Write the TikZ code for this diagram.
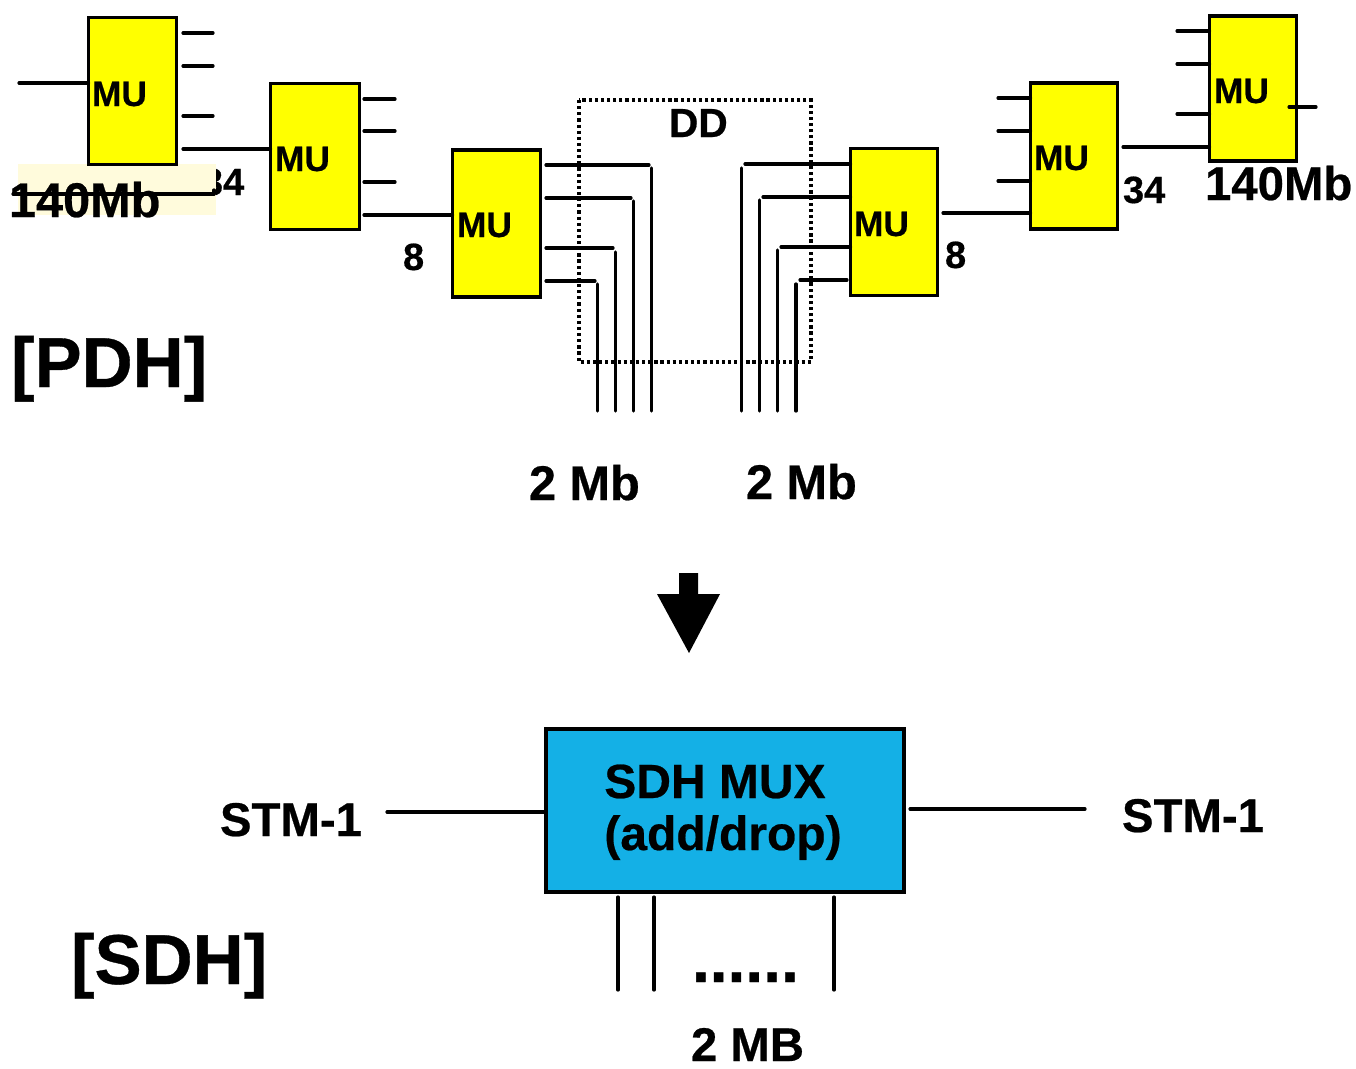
\documentclass[tikz,border=0pt]{standalone}
\usepackage{fontspec}
\setmainfont{Liberation Sans}[BoldFont={Liberation Sans Bold},BoldFeatures={FakeBold=0.5}]
\newcommand{\wire}[5]{%
  \coordinate (#1a) at (#2,#3);
  \coordinate (#1b) at (#4,#5);
  \draw[wire] (#1a) -- (#1b);}
\newcommand{\wireto}[4]{% name, x, y, target node anchor
  \coordinate (#1a) at (#2,#3);
  \draw[wire] (#1a) -- (#1a -| #4);}
\newcommand{\mubox}[5]{% name, left, right, top, bottom
  \path (#2,#4) coordinate (#1nw) (#3,#5) coordinate (#1se);
  \node[mublock,fit=(#1nw)(#1se)] (#1) {};}
\usetikzlibrary{fit}
\definecolor{sdhblue}{HTML}{14B0E6}
\definecolor{beige}{HTML}{FFFBDC}
\definecolor{muyellow}{HTML}{FFFF00}
\tikzset{
  x=0.75pt,y=-0.75pt,
  wire/.style={line width=2.4pt,black,line cap=round},
  thinwire/.style={line width=2.4pt,black,line cap=round},
  mublock/.style={draw=black,fill=muyellow,line width=2.8pt,inner sep=0pt,outer sep=0pt},
  sdhblock/.style={draw=black,fill=sdhblue,line width=2.6pt,inner sep=0pt,outer sep=0pt},
  txt/.style={anchor=base west,inner sep=0pt,outer sep=0pt,font=\bfseries,text=black},
  mutxt/.style={txt,font=\fontsize{26.5}{27}\selectfont\bfseries},
  numtxt/.style={txt,font=\fontsize{28.5}{28.5}\selectfont\bfseries},
  bigtxt/.style={txt,font=\fontsize{35.5}{36}\selectfont\bfseries},
  hugetxt/.style={txt,font=\fontsize{53}{53}\selectfont\bfseries},
  ddbox/.style={draw=black,line width=2.3pt,dash pattern=on 2.4pt off 2.2pt},
}
\begin{document}
\begin{tikzpicture}
\useasboundingbox (0,0) rectangle (1356,1068);
\fill[white] (0,0) rectangle (1356,1068);

% clipped "34" under the beige patch
\node[numtxt] (n34l) at (202,195) {34};
\fill[beige] (18,164) rectangle (216,215);

% DD dotted frame
\coordinate (ddnw) at (579,100);
\coordinate (ddse) at (811,362);
\draw[ddbox] (ddnw) rectangle (ddse);
\node[txt,font=\fontsize{30.5}{31}\selectfont\bfseries] (dd) at (669,137) {DD};

% MU boxes
\mubox{ma}{88.5}{176.5}{17.5}{164.5}
\mubox{mb}{270.5}{359.5}{83.5}{229.5}
\mubox{mc}{452.5}{540.5}{150}{297}
\mubox{md}{850.5}{937.5}{148.5}{295.5}
\mubox{me}{1030.5}{1117.5}{83}{229}
\mubox{mf}{1209.5}{1296.5}{16}{161}

\node[mutxt] (la) at (92,106) {MU};
\node[mutxt] (lb) at (275,171) {MU};
\node[mutxt] (lc) at (457,237) {MU};
\node[mutxt] (ld) at (854,236) {MU};
\node[mutxt] (le) at (1034,170) {MU};
\node[mutxt] (lf) at (1214,103) {MU};

% first box wires
\wireto{ain}{19}{83}{ma.west}
\wire{aa}{183}{33}{213}{33}
\wire{ab}{183}{66}{213}{66}
\wire{ac}{183}{116}{213}{116}
\wireto{ad}{183}{149}{mb.west}
\wire{ae}{13}{194}{214}{194}
\coordinate (aftop) at (214,190);
\draw[wire] (aeb) -- (aftop);

% second box wires
\wire{ba}{364}{99}{395}{99}
\wire{bb}{364}{131}{395}{131}
\wire{bc}{364}{182}{395}{182}
\wireto{bd}{364}{215}{mc.west}

% third box: horizontal and vertical drops
\wire{ca}{546}{165}{649}{165}
\wire{cb}{546}{198}{631}{198}
\wire{cc}{546}{248}{613}{248}
\wire{cd}{546}{281}{595}{281}
\wire{cv}{651.5}{168}{651.5}{411}
\wire{cw}{633.5}{201}{633.5}{411}
\wire{cx}{615.5}{252}{615.5}{411}
\wire{cy}{597.5}{284}{597.5}{411}

% fourth box
\wireto{da}{745}{164}{md.west}
\wireto{db}{763}{197}{md.west}
\wireto{dc}{781}{247}{md.west}
\wire{dd}{800}{280}{847}{280}
\wire{dv}{741.5}{168}{741.5}{411}
\wire{dw}{759.5}{200}{759.5}{411}
\wire{dx}{777.5}{250}{777.5}{411}
\wire{dy}{796}{284}{796}{411}

% fifth box
\wireto{ea}{943}{213}{me.west}
\wireto{eb}{998}{98}{me.west}
\wireto{ec}{998}{131}{me.west}
\wireto{ed}{998}{181}{me.west}

% sixth box
\wireto{fa}{1123}{147}{mf.west}
\wireto{fb}{1177}{31}{mf.west}
\wireto{fc}{1177}{64}{mf.west}
\wireto{fd}{1177}{114}{mf.west}
\wire{fe}{1289}{107}{1316}{107}

% labels upper part
\node[bigtxt,font=\fontsize{36.5}{37}\selectfont\bfseries] (t140l) at (9,217) {140Mb};
\node[bigtxt] (t140r) at (1205,200) {140Mb};
\node[numtxt] (n8l) at (403,270) {8};
\node[numtxt] (n8r) at (945,268) {8};
\node[numtxt] (n34r) at (1123,203) {34};
\node[hugetxt] (pdh) at (11,387) {[PDH]};
\node[txt,font=\fontsize{36.5}{37}\selectfont\bfseries] (mbl) at (529,500) {2 Mb};
\node[txt,font=\fontsize{36.5}{37}\selectfont\bfseries] (mbr) at (746,499) {2 Mb};

% down arrow
\fill[black] (679,573) -- (698,573) -- (698,594) -- (720,594) -- (689,653) -- (657,594) -- (679,594) -- cycle;

% SDH box
\path (546,729) coordinate (snw) (904,892) coordinate (sse);
\node[sdhblock,fit=(snw)(sse)] (sdh) {};
\node[txt,anchor=base,font=\fontsize{36}{36}\selectfont\bfseries] (s1) at (715,798) {SDH MUX};
\node[txt,anchor=base,font=\fontsize{36}{36}\selectfont\bfseries] (s2) at (723,850) {(add/drop)};

\coordinate (sla) at (387,812);
\draw[thinwire] (sla) -- (sla -| sdh.west);
\coordinate (sra) at (910,809);
\coordinate (srb) at (1085,809);
\draw[thinwire] (sra) -- (srb);
\coordinate (saa) at (618,897);
\coordinate (sab) at (618,990);
\coordinate (sba) at (654,897);
\coordinate (sbb) at (654,990);
\coordinate (sca) at (834,897);
\coordinate (scb) at (834,990);
\draw[thinwire] (saa) -- (sab);
\draw[thinwire] (sba) -- (sbb);
\draw[thinwire] (sca) -- (scb);

\node[txt,font=\fontsize{48}{48}\selectfont\bfseries] (dots) at (692,982) {......};
\node[bigtxt] (stml) at (220,836) {STM-1};
\node[bigtxt] (stmr) at (1122,832) {STM-1};
\node[hugetxt] (sdhl) at (71,984) {[SDH]};
\node[bigtxt] (mbb) at (691,1061) {2 MB};
\end{tikzpicture}
\end{document}
